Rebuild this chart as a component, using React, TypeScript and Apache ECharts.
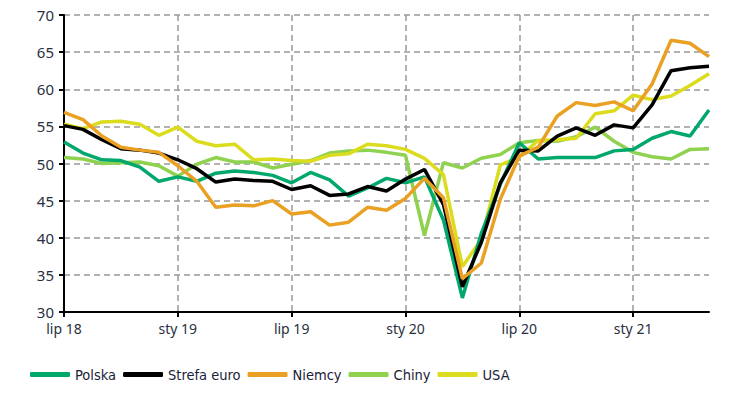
import React, { useEffect, useRef } from "react";
import * as echarts from "echarts";

const months = ["sty", "lut", "mar", "kwi", "maj", "cze", "lip", "sie", "wrz", "paź", "lis", "gru"];
const categories: string[] = [];
for (let i = 0; i < 35; i++) {
  const m = (6 + i) % 12;
  const y = 18 + Math.floor((6 + i) / 12);
  categories.push(`${months[m]} ${y}`);
}

const polska = [52.9, 51.4, 50.5, 50.4, 49.5, 47.6, 48.2, 47.6, 48.7, 49.0, 48.8, 48.4, 47.4, 48.8, 47.8, 45.6, 46.7, 48.0, 47.4, 48.2, 42.4, 31.9, 40.6, 47.2, 52.8, 50.6, 50.8, 50.8, 50.8, 51.7, 51.9, 53.4, 54.3, 53.7, 57.2];
const strefaEuro = [55.1, 54.6, 53.2, 52.0, 51.8, 51.4, 50.5, 49.3, 47.5, 47.9, 47.7, 47.6, 46.5, 47.0, 45.7, 45.9, 46.9, 46.3, 47.9, 49.2, 44.5, 33.4, 39.4, 47.4, 51.8, 51.7, 53.7, 54.8, 53.8, 55.2, 54.8, 57.9, 62.5, 62.9, 63.1];
const niemcy = [56.9, 55.9, 53.7, 52.2, 51.8, 51.5, 49.7, 47.6, 44.1, 44.4, 44.3, 45.0, 43.2, 43.5, 41.7, 42.1, 44.1, 43.7, 45.3, 48.0, 45.4, 34.5, 36.6, 45.2, 51.0, 52.2, 56.4, 58.2, 57.8, 58.3, 57.1, 60.7, 66.6, 66.2, 64.4];
const chiny = [50.8, 50.6, 50.0, 50.1, 50.2, 49.7, 48.3, 49.9, 50.8, 50.2, 50.2, 49.4, 49.9, 50.4, 51.4, 51.7, 51.8, 51.5, 51.1, 40.3, 50.1, 49.4, 50.7, 51.2, 52.8, 53.1, 53.0, 53.6, 54.9, 53.0, 51.5, 50.9, 50.6, 51.9, 52.0];
const usa = [55.3, 54.7, 55.6, 55.7, 55.3, 53.8, 54.9, 53.0, 52.4, 52.6, 50.5, 50.6, 50.4, 50.3, 51.1, 51.3, 52.6, 52.4, 51.9, 50.7, 48.5, 36.1, 39.8, 49.8, 50.9, 53.1, 53.2, 53.4, 56.7, 57.1, 59.2, 58.6, 59.1, 60.5, 62.1];

const seriesDefs = [
  { name: "Polska", data: polska, color: "#00a86b" },
  { name: "Strefa euro", data: strefaEuro, color: "#000000" },
  { name: "Niemcy", data: niemcy, color: "#e9a023" },
  { name: "Chiny", data: chiny, color: "#8fd24f" },
  { name: "USA", data: usa, color: "#dcdc1e" },
];

export default function App() {
  const ref = useRef<HTMLDivElement>(null);
  useEffect(() => {
    if (!ref.current) return;
    const chart = echarts.init(ref.current, null, { renderer: "svg" });
    const labelFont = '"Noto Sans", "Open Sans", sans-serif';
    chart.setOption({
      animation: false,
      backgroundColor: "#ffffff",
      grid: { left: 64, top: 15, right: 41, bottom: 84, containLabel: false },
      legend: {
        top: 362,
        left: 25,
        icon: "roundRect",
        itemWidth: 40,
        itemHeight: 5,
        itemGap: 7,
        itemStyle: { borderWidth: 0 },
        textStyle: {
          fontFamily: '"DejaVu Sans Condensed", "Liberation Sans Narrow", "Noto Sans", sans-serif',
          fontSize: 14.5,
          color: "#1a2238",
        },
        data: seriesDefs.map((s) => s.name),
      },
      xAxis: {
        type: "category",
        data: categories,
        boundaryGap: false,
        axisLine: { lineStyle: { color: "#000", width: 2 } },
        axisTick: { show: true, interval: 5, length: 5, lineStyle: { color: "#000", width: 2 } },
        axisLabel: {
          interval: 5,
          fontFamily: labelFont,
          fontSize: 14,
          color: "#2a3040",
          margin: 9,
        },
        splitLine: {
          show: true,
          interval: (idx: number) => idx % 6 === 0 && idx !== 0,
          lineStyle: { color: "#999", type: [6, 4], width: 1.5 },
        },
      },
      yAxis: {
        type: "value",
        min: 30,
        max: 70,
        interval: 5,
        axisLine: { show: true, lineStyle: { color: "#000", width: 2 } },
        axisTick: { show: true, length: 5, lineStyle: { color: "#000", width: 2 } },
        axisLabel: {
          fontFamily: labelFont,
          fontSize: 15,
          color: "#2a3040",
          margin: 10,
        },
        splitLine: { show: true, lineStyle: { color: "#999", type: [6, 4], width: 1.5 } },
      },
      series: seriesDefs.map((s) => ({
        name: s.name,
        type: "line",
        data: s.data,
        symbol: "none",
        color: s.color,
        lineStyle: { color: s.color, width: 3.5 },
        itemStyle: { color: s.color },
        z: s.name === "USA" ? 3 : s.name === "Chiny" ? 2 : 4,
      })),
    });
    return () => chart.dispose();
  }, []);
  return (
    <div
      ref={ref}
      style={{ position: "absolute", left: 0, top: 0, width: 750, height: 396 }}
    />
  );
}
